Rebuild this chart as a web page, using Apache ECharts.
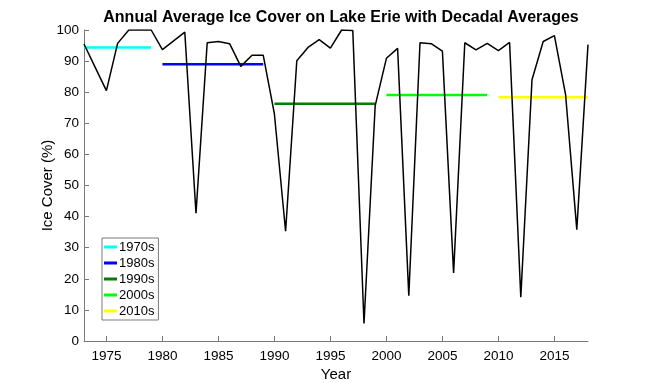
<!DOCTYPE html>
<html><head><meta charset="utf-8">
<script src="https://cdn.jsdelivr.net/npm/echarts@6/dist/echarts.min.js"></script>
<style>html,body{margin:0;padding:0;background:#fff}#c{width:650px;height:383px}</style>
</head><body><div id="c"></div>
<script>
const years = [1973,1974,1975,1976,1977,1978,1979,1980,1981,1982,1983,1984,1985,1986,1987,1988,1989,
  1990,1991,1992,1993,1994,1995,1996,1997,1998,1999,2000,2001,2002,2003,2004,2005,2006,2007,2008,2009,
  2010,2011,2012,2013,2014,2015,2016,2017,2018];
const iceCover = [95.5,88,80.5,95.7,100,100,100,93.7,96.5,99.3,41.1,95.9,96.3,95.6,88.3,91.9,91.9,
  73.0,35.3,90.1,94.4,96.9,94.2,100,99.8,5.6,75.7,90.9,94.1,14.6,95.9,95.6,93.2,21.9,95.9,93.6,95.7,
  93.4,96.0,14.1,84.0,96.3,98.2,79.2,35.8,95.3];
const decades = ['1970s','1980s','1990s','2000s','2010s'];
const decadeStart = [1973,1980,1990,2000,2010];
const decadeEnd = [1979,1989,1999,2009,2018];
const decadeAvg = [94.4,89.0,76.3,79.1,78.4];
const decadeColors = ['#00FFFF','#0000FF','#007F00','#00FF00','#FFFF00'];
const xTicks = [1975,1980,1985,1990,1995,2000,2005,2010,2015];

const font = 'Helvetica, Arial, "Liberation Sans", sans-serif';
const axisColor = '#7a7a7a';
const series = [{
  type:'line', name:'Ice Cover', data: years.map((y,i)=>[y,iceCover[i]]),
  symbol:'none', lineStyle:{color:'#000',width:1.5}, itemStyle:{color:'#000'}, z:3, silent:true
}];
decades.forEach((d,i)=>{
  series.push({type:'line', name:d, data:[[decadeStart[i],decadeAvg[i]],[decadeEnd[i],decadeAvg[i]]],
    symbol:'none', lineStyle:{color:decadeColors[i],width:2.5}, itemStyle:{color:decadeColors[i]}, z:2});
});
const chart = echarts.init(document.getElementById('c'), null, {renderer:'canvas'});
chart.setOption({
  animation:false,
  backgroundColor:'#fff',
  title:{text:'Annual Average Ice Cover on Lake Erie with Decadal Averages', left:336, textAlign:'center', top:5,
    textStyle:{fontFamily:font,fontSize:16,fontWeight:'bold',color:'#000'}},
  grid:{left:84,right:62,top:30,bottom:42,outerBoundsMode:'none',containLabel:false},
  legend:{data:decades, orient:'vertical', left:102, top:238, itemWidth:13, itemHeight:3, itemGap:0,
    padding:[1,4,1,2], borderColor:axisColor, borderWidth:1, icon:'rect',
    textStyle:{fontFamily:font,fontSize:13,color:'#000',lineHeight:16, padding:[0,0,0,-3]}},
  xAxis:{type:'value', min:1973, max:2018, name:'Year', nameLocation:'middle', nameGap:26, nameMoveOverlap:false,
    nameTextStyle:{fontFamily:font,fontSize:15,color:'#000'},
    axisLine:{lineStyle:{color:axisColor}},
    axisTick:{inside:true,length:5,lineStyle:{color:axisColor},customValues:xTicks},
    axisLabel:{fontFamily:font,fontSize:13.5,color:'#000',margin:8,customValues:xTicks,formatter:v=>String(v)},
    splitLine:{show:false}},
  yAxis:{type:'value', min:0, max:100, interval:10, name:'Ice Cover (%)', nameLocation:'middle', nameGap:29, nameMoveOverlap:false,
    nameTextStyle:{fontFamily:font,fontSize:15,color:'#000'},
    axisLine:{show:true,lineStyle:{color:axisColor}},
    axisTick:{show:true,inside:true,length:5,lineStyle:{color:axisColor}},
    axisLabel:{fontFamily:font,fontSize:13.5,color:'#000',margin:5},
    splitLine:{show:false}},
  series
});
</script></body></html>
